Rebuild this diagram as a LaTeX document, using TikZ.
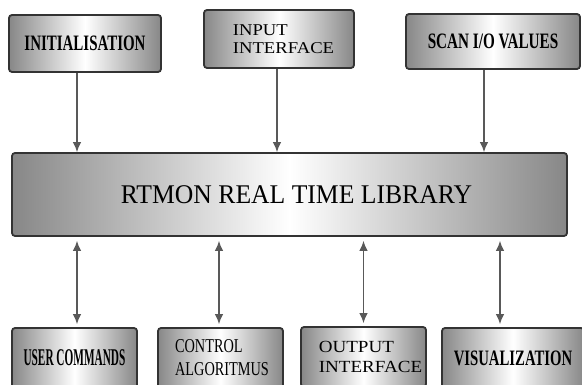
\documentclass[tikz,border=0pt]{standalone}
\usepackage{fontspec}
\setmainfont{Liberation Serif}
\usepackage{graphicx}
\usetikzlibrary{positioning,arrows.meta}

% squeeze a label sideways
\newcommand{\hsq}[2]{\scalebox{#1}[1]{#2}}

\begin{document}
\begin{tikzpicture}[x=1pt, y=-1pt,
    >={Latex[length=10pt,width=8.5pt]},
    link/.style={draw=black!65, line width=1.3pt},
    box/.style={draw=black!80, line width=1.8pt, rounded corners=3pt,
        left color=black!47, right color=black!47, middle color=white,
        inner sep=0pt, align=left},
    boldlbl/.style={font=\fontsize{22}{24}\selectfont\bfseries},
    thinlbl/.style={font=\fontsize{17}{19}\selectfont}]

    \clip (0,0) rectangle (582,385);

    % library in the middle
    \node[box, minimum width=555pt, minimum height=83pt,
        font=\fontsize{27}{28}\selectfont] (lib) at (289.5,194.5)
        {\hspace*{14pt}\hsq{0.95}{RTMON REAL TIME LIBRARY}};

    % inputs on top
    \node[box, boldlbl, minimum width=152pt, minimum height=57pt] (init) at (85,43.5)
        {\hsq{0.68}{INITIALISATION}};
    \node[box, thinlbl, minimum width=150pt, minimum height=58pt,
        font=\fontsize{16.5}{18}\selectfont] (input) at (279,39)
        {\hspace*{9pt}\hsq{1.13}{INPUT}\\\hspace*{9pt}\hsq{1.13}{INTERFACE}};
    \node[box, boldlbl, minimum width=174pt, minimum height=55pt] (scan) at (493,41.5)
        {\hsq{0.69}{SCAN I/O VALUES}};

    % clients below
    \node[box, minimum width=125pt, minimum height=60pt,
        font=\fontsize{24}{26}\selectfont\bfseries] (user) at (74.5,358)
        {\hsq{0.47}{USER COMMANDS}};
    \node[box, minimum width=125pt, minimum height=60pt,
        font=\fontsize{19.6}{23}\selectfont] (ctrl) at (220.5,358)
        {\hspace*{3pt}\hsq{0.73}{CONTROL}\\\hspace*{3pt}\hsq{0.73}{ALGORITMUS}};
    \node[box, thinlbl, minimum width=125pt, minimum height=60pt,
        font=\fontsize{17}{20}\selectfont] (out) at (363.5,357)
        {\hspace*{14pt}\hsq{1.12}{OUTPUT}\\\hspace*{14pt}\hsq{1.12}{INTERFACE}};
    \node[box, boldlbl, minimum width=142pt, minimum height=60pt] (vis) at (513,358)
        {\hsq{0.67}{VISUALIZATION}};

    \draw[link, ->] ([xshift=-8pt]init.south) -- ([xshift=-8pt]init.south |- lib.north);
    \draw[link, ->] ([xshift=-2pt]input.south) -- ([xshift=-2pt]input.south |- lib.north);
    \draw[link, ->] ([xshift=-9pt]scan.south) -- ([xshift=-9pt]scan.south |- lib.north);

    \draw[link, <->, shorten <=4pt, shorten >=3pt] ([xshift=2.5pt]user.north |- lib.south) -- ([xshift=2.5pt]user.north);
    \draw[link, <->, shorten <=4pt, shorten >=3pt] ([xshift=-1.5pt]ctrl.north |- lib.south) -- ([xshift=-1.5pt]ctrl.north);
    \draw[link, <->, shorten <=4pt, shorten >=3pt] (out.north |- lib.south) -- (out.north);
    \draw[link, <->, shorten <=4pt, shorten >=3pt] ([xshift=-13pt]vis.north |- lib.south) -- ([xshift=-13pt]vis.north);

\end{tikzpicture}
\end{document}
